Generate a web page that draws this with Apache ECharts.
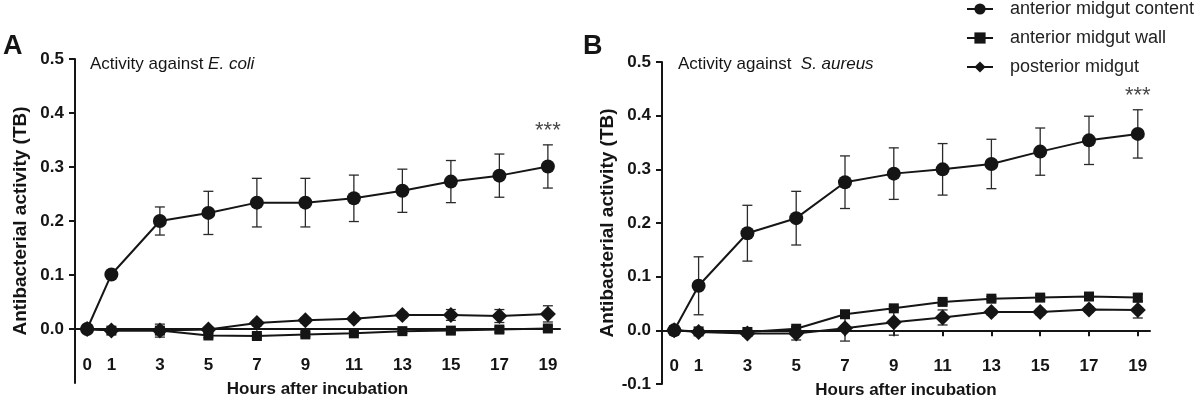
<!DOCTYPE html>
<html>
<head>
<meta charset="utf-8">
<script src="https://cdn.jsdelivr.net/npm/echarts@6/dist/echarts.min.js"></script>
<style>html,body{margin:0;padding:0;background:#fff}#c{width:1200px;height:400px}</style>
</head>
<body>
<div id="c"></div>
<script>
// ---- data ----
const hours = [0, 1, 3, 5, 7, 9, 11, 13, 15, 17, 19];
const tickLabelsX = [0, 1, 3, 5, 7, 9, 11, 13, 15, 17, 19];
const seriesNames = ['anterior midgut content', 'anterior midgut wall', 'posterior midgut'];

// Panel A: activity against E. coli
const aContent    = [0.000, 0.101, 0.200, 0.215, 0.234, 0.234, 0.242, 0.256, 0.273, 0.284, 0.301];
const aContentErr = [0.000, 0.000, 0.026, 0.040, 0.045, 0.045, 0.043, 0.040, 0.039, 0.040, 0.040];
const aWall       = [0.000, -0.003, -0.003, -0.012, -0.013, -0.010, -0.008, -0.004, -0.003, -0.001, 0.001];
const aWallErr    = [0.000, 0.003, 0.004, 0.004, 0.004, 0.004, 0.004, 0.004, 0.004, 0.005, 0.005];
const aPost       = [0.000, -0.003, -0.003, -0.001, 0.011, 0.016, 0.019, 0.026, 0.026, 0.024, 0.028];
const aPostErr    = [0.000, 0.003, 0.012, 0.004, 0.005, 0.005, 0.005, 0.005, 0.010, 0.012, 0.015];

// Panel B: activity against S. aureus
const bContent    = [0.000, 0.083, 0.181, 0.209, 0.276, 0.292, 0.300, 0.310, 0.333, 0.354, 0.366];
const bContentErr = [0.000, 0.054, 0.052, 0.050, 0.049, 0.048, 0.048, 0.046, 0.044, 0.045, 0.045];
const bWall       = [0.000, -0.002, -0.003, 0.003, 0.030, 0.041, 0.053, 0.059, 0.061, 0.063, 0.061];
const bWallErr    = [0.000, 0.003, 0.003, 0.004, 0.004, 0.004, 0.004, 0.004, 0.004, 0.004, 0.006];
const bPost       = [0.000, -0.003, -0.006, -0.006, 0.004, 0.015, 0.024, 0.034, 0.034, 0.039, 0.038];
const bPostErr    = [0.000, 0.003, 0.004, 0.012, 0.024, 0.024, 0.014, 0.005, 0.005, 0.005, 0.015];

const yTicksA = [0, 0.1, 0.2, 0.3, 0.4, 0.5];
const yTicksB = [-0.1, 0, 0.1, 0.2, 0.3, 0.4, 0.5];
const sigLabel = '***';

// ---- helpers ----
const INK = '#151515';
const FONT = '"Liberation Sans", Arial, sans-serif';
const pairs = (ys) => hours.map((h, i) => [h, ys[i]]);
const errData = (ys, es) => hours.map((h, i) => [h, ys[i] - es[i], ys[i] + es[i]]);

function errRender(params, api) {
  const x = api.value(0), lo = api.value(1), hi = api.value(2);
  if (hi - lo <= 0) return null;
  const p1 = api.coord([x, hi]), p2 = api.coord([x, lo]);
  const hw = 5;
  const st = { stroke: '#2a2a2a', lineWidth: 1.3 };
  return {
    type: 'group',
    children: [
      { type: 'line', shape: { x1: p1[0], y1: p1[1], x2: p2[0], y2: p2[1] }, style: st },
      { type: 'line', shape: { x1: p1[0] - hw, y1: p1[1], x2: p1[0] + hw, y2: p1[1] }, style: st },
      { type: 'line', shape: { x1: p2[0] - hw, y1: p2[1], x2: p2[0] + hw, y2: p2[1] }, style: st }
    ]
  };
}

const symbols = ['circle', 'rect', 'diamond'];
const symSizes = [14, 10, 16];

function panelSeries(idx, vals, errs) {
  const out = [];
  vals.forEach((v, k) => {
    out.push({
      type: 'custom', xAxisIndex: idx, yAxisIndex: idx, z: 1,
      renderItem: errRender, data: errData(v, errs[k]), silent: true
    });
  });
  vals.forEach((v, k) => {
    out.push({
      type: 'line', name: seriesNames[k], xAxisIndex: idx, yAxisIndex: idx, z: 3,
      data: pairs(v), symbol: symbols[k], symbolSize: symSizes[k],
      lineStyle: { color: INK, width: 2 }, itemStyle: { color: INK },
      showSymbol: true
    });
  });
  const last = hours.length - 1;
  out.push({
    type: 'scatter', xAxisIndex: idx, yAxisIndex: idx, z: 4,
    symbolSize: 1, itemStyle: { color: 'rgba(0,0,0,0)' },
    data: [[hours[last], vals[0][last] + errs[0][last]]],
    label: { show: true, position: 'top', distance: 2, formatter: sigLabel,
             color: INK, fontFamily: FONT, fontSize: 22 }
  });
  return out;
}

function xAxisDef(idx, showTicks) {
  return {
    type: 'value', gridIndex: idx, min: -0.5, max: 19.5,
    name: 'Hours after incubation', nameLocation: 'middle', nameGap: -2, nameMoveOverlap: false,
    nameTextStyle: { fontFamily: FONT, fontWeight: 'bold', fontSize: 17, color: INK },
    axisLine: { onZero: true, lineStyle: { color: INK, width: 2 } },
    axisTick: { show: showTicks, customValues: tickLabelsX, length: 6, lineStyle: { color: INK, width: 2 } },
    axisLabel: { customValues: tickLabelsX, margin: -26, fontFamily: FONT, fontWeight: 'bold', fontSize: 17, color: INK },
    splitLine: { show: false }
  };
}

function yAxisDef(idx, ticks) {
  return {
    type: 'value', gridIndex: idx, min: -0.1, max: 0.5,
    name: 'Antibacterial activity (TB)', nameLocation: 'middle', nameGap: 45, nameMoveOverlap: false,
    nameTextStyle: { fontFamily: FONT, fontWeight: 'bold', fontSize: 19, color: INK },
    axisLine: { show: true, onZero: false, lineStyle: { color: INK, width: 2 } },
    axisTick: { show: true, customValues: ticks, length: 6, lineStyle: { color: INK, width: 2 } },
    axisLabel: { customValues: ticks, margin: 11, fontFamily: FONT, fontWeight: 'bold', fontSize: 17, color: INK,
                 formatter: (v) => v.toFixed(1) },
    splitLine: { show: false }
  };
}

const chart = echarts.init(document.getElementById('c'), null, { renderer: 'canvas' });
chart.setOption({
  animation: false,
  backgroundColor: '#fff',
  grid: [
    { left: 75, top: 59, width: 485, height: 324, outerBoundsMode: 'none', containLabel: false },
    { left: 662, top: 62, width: 488, height: 322, outerBoundsMode: 'none', containLabel: false }
  ],
  xAxis: [xAxisDef(0, false), xAxisDef(1, true)],
  yAxis: [yAxisDef(0, yTicksA), yAxisDef(1, yTicksB)],
  legend: {
    data: seriesNames, orient: 'vertical', left: 966, top: 0, padding: 0,
    itemWidth: 26, itemHeight: 14, itemGap: 11,
    textStyle: { fontFamily: FONT, fontSize: 18, color: '#222', padding: [0, 0, 0, 12] }
  },
  graphic: [
    { type: 'text', left: 3, top: 33, style: { text: 'A', font: 'bold 27px ' + FONT, fill: INK } },
    { type: 'text', left: 583, top: 33, style: { text: 'B', font: 'bold 27px ' + FONT, fill: INK } },
    { type: 'text', left: 90, top: 56, style: {
        text: '{n|Activity against }{i|E. coli}',
        rich: { n: { fontFamily: FONT, fontSize: 17, fill: INK, color: INK },
                i: { fontFamily: FONT, fontSize: 17, fontStyle: 'italic', fill: INK, color: INK } } } },
    { type: 'text', left: 678, top: 56, style: {
        text: '{n|Activity against  }{i|S. aureus}',
        rich: { n: { fontFamily: FONT, fontSize: 17, fill: INK, color: INK },
                i: { fontFamily: FONT, fontSize: 17, fontStyle: 'italic', fill: INK, color: INK } } } }
  ],
  series: [
    ...panelSeries(0, [aContent, aWall, aPost], [aContentErr, aWallErr, aPostErr]),
    ...panelSeries(1, [bContent, bWall, bPost], [bContentErr, bWallErr, bPostErr])
  ]
});
</script>
</body>
</html>
